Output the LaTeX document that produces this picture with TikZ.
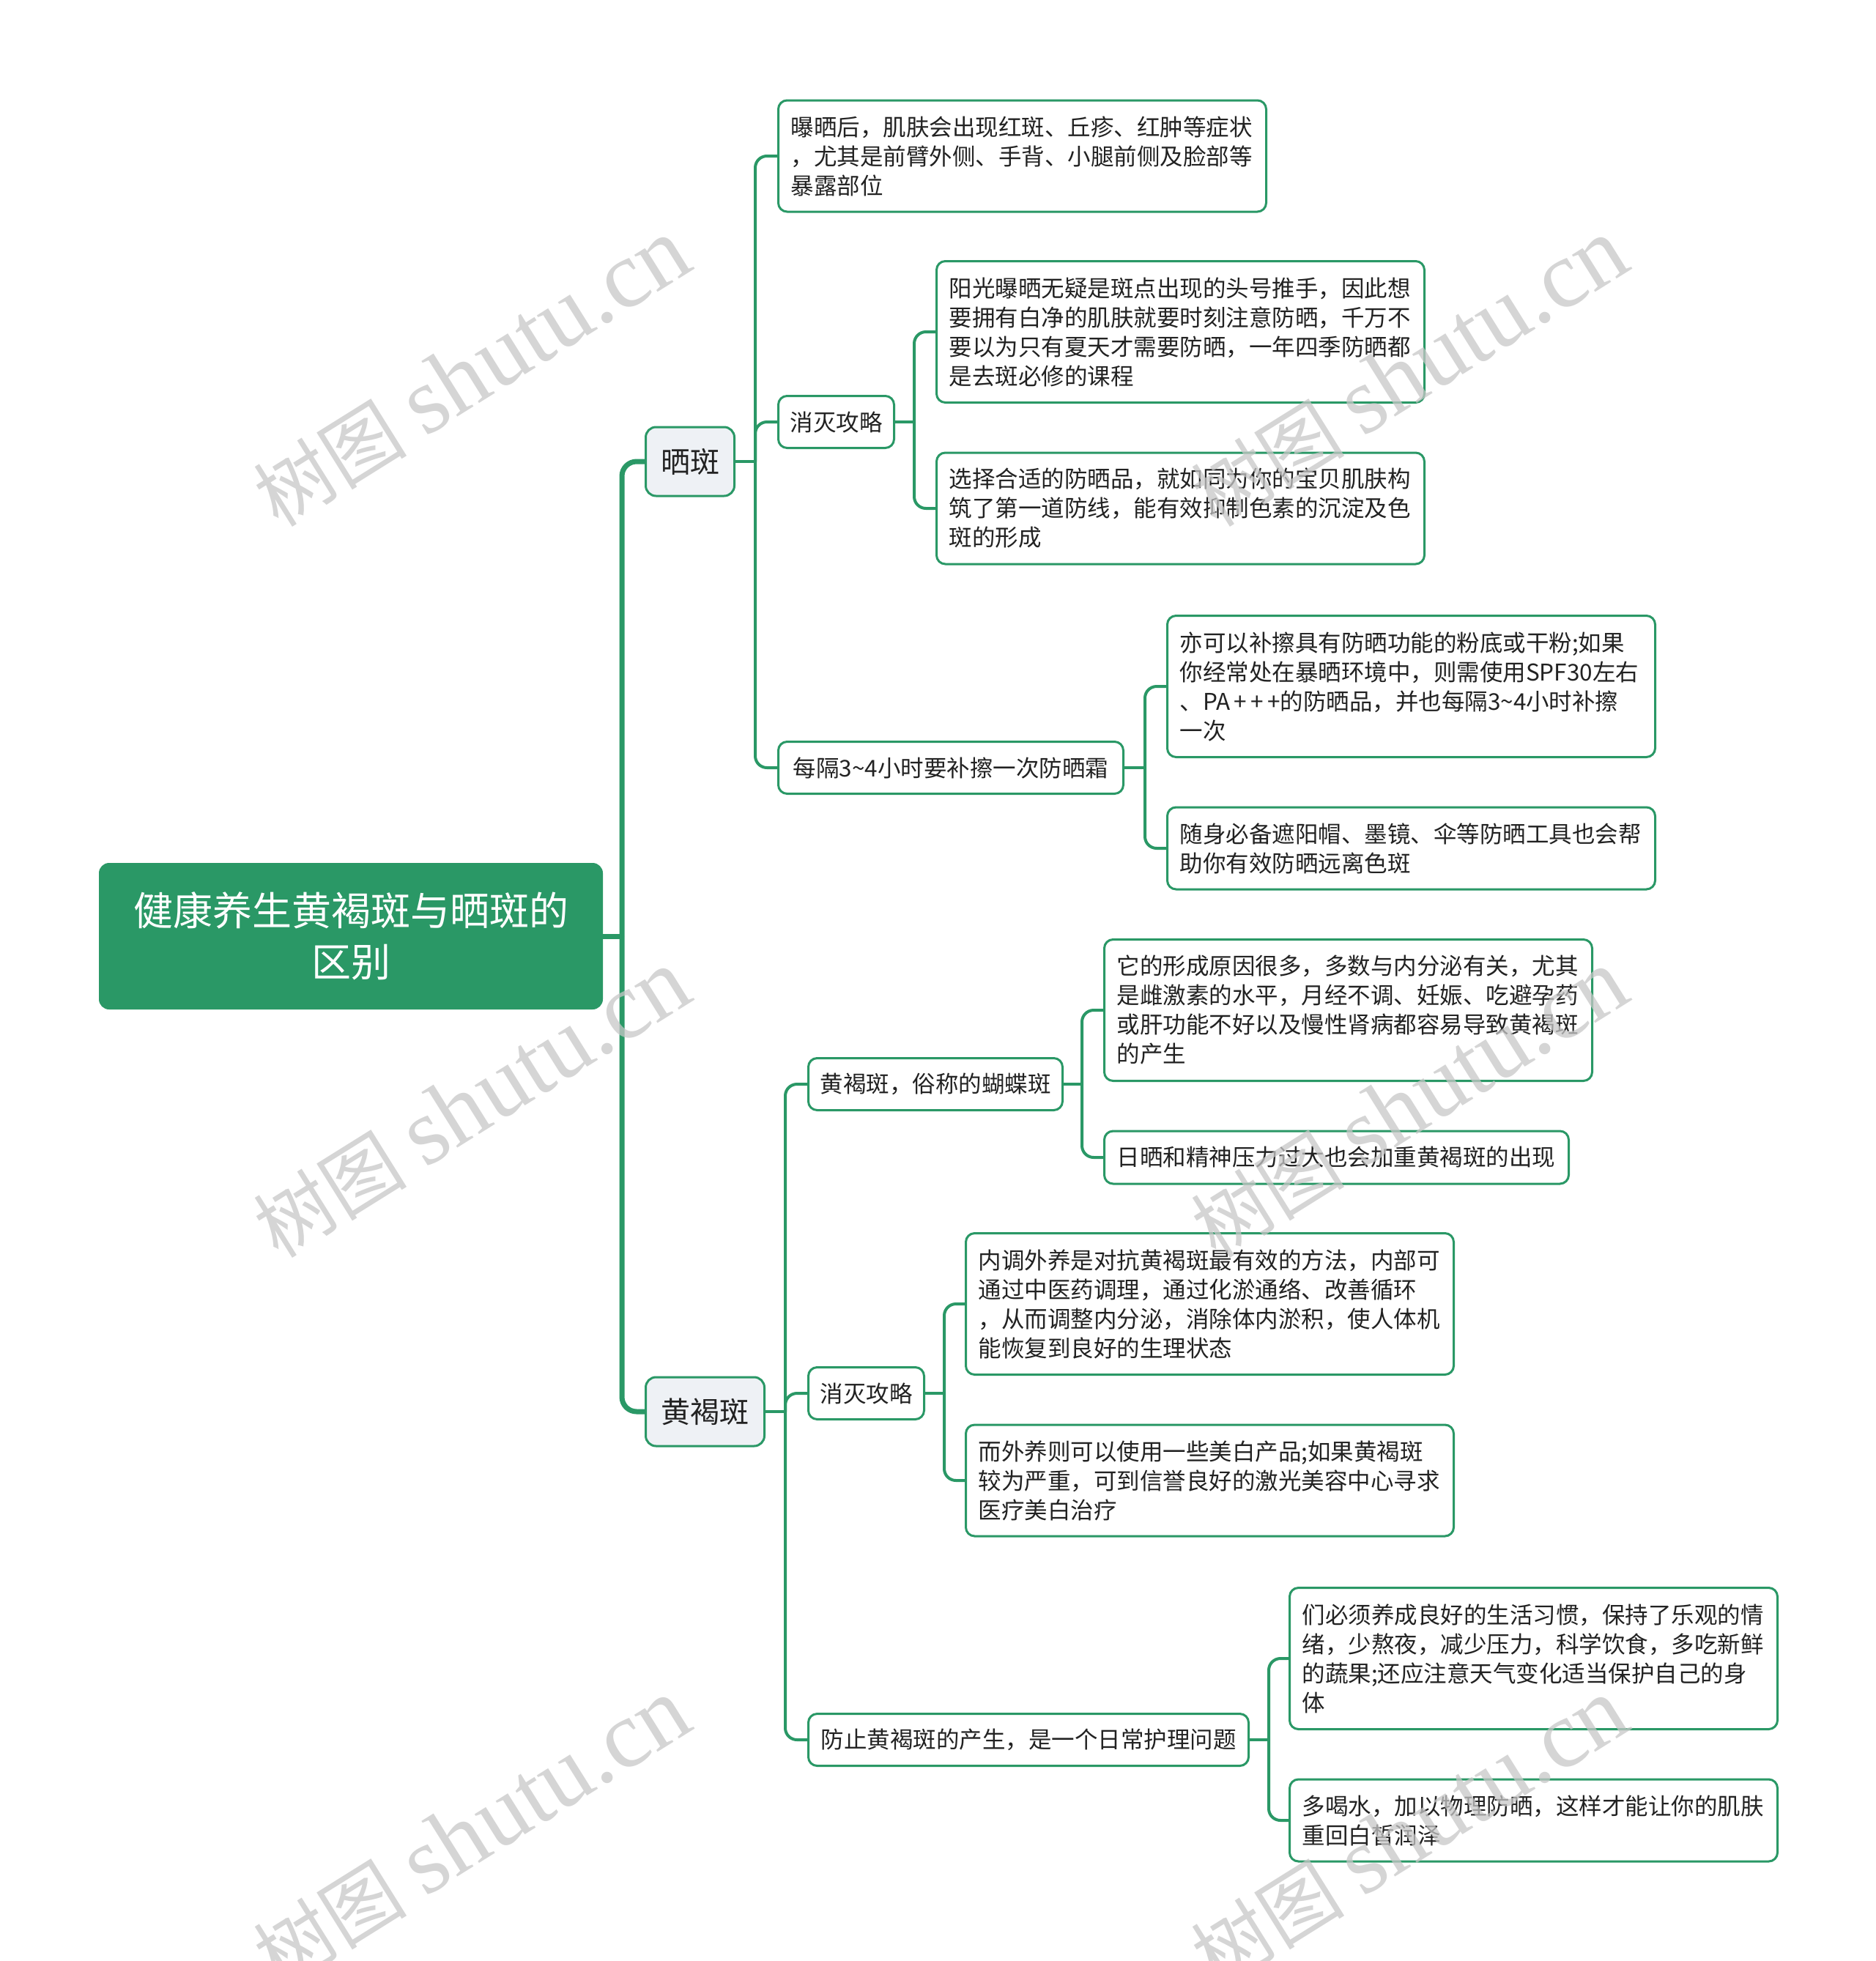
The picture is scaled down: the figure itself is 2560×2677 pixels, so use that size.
\documentclass[tikz,border=0pt]{standalone}
\usepackage{fontspec}
\setmainfont{Noto Sans CJK SC}
\newfontfamily\wmlatin{Liberation Serif}
\newcommand{\tld}{\char"7E\relax}
\definecolor{mmgreen}{RGB}{42,152,102}
\definecolor{topicfill}{RGB}{238,241,245}
\definecolor{inktext}{RGB}{34,34,34}
\tikzset{
 rootbox/.style={fill=mmgreen, rounded corners=14pt, text=white, minimum width=688pt, minimum height=200pt, align=center, font=\fontsize{54pt}{70pt}\selectfont, inner sep=0pt},
 topicbox/.style={fill=topicfill, draw=mmgreen, line width=3pt, rounded corners=14pt, text=inktext, minimum height=94pt, inner xsep=20pt, font=\fontsize{40pt}{48pt}\selectfont, anchor=west},
 subbox/.style={fill=white, draw=mmgreen, line width=3pt, rounded corners=12pt, text=inktext, minimum height=71pt, inner xsep=16pt, font=\fontsize{31.5pt}{40pt}\selectfont, anchor=west},
 leafbox/.style={fill=white, draw=mmgreen, line width=3pt, rounded corners=12pt, text=inktext, inner xsep=17pt, inner ysep=0pt, align=left, font=\fontsize{31.5pt}{40pt}\selectfont, anchor=west, text width=632pt},
 trunkline/.style={draw=mmgreen, line width=7pt, rounded corners=20pt},
 branchline/.style={draw=mmgreen, line width=4pt, rounded corners=16pt},
 watermark/.style={rotate=32, text=black!22, text opacity=0.75, inner sep=0pt}
}
\begin{document}
\begin{tikzpicture}[x=1pt,y=1pt]
\path[clip] (0,0) rectangle (2560,-2677);
\fill[white] (0,0) rectangle (2560,-2677);

% nodes
\node[rootbox] (root) at (479,-1278) {健康养生黄褐斑与晒斑的\\区别};
\node[topicbox, minimum width=121pt] (sb) at (880,-630) {晒斑};
\node[topicbox, minimum width=162pt] (hhb) at (880,-1927) {黄褐斑};

\node[leafbox, minimum height=152pt] (l1) at (1061,-213) {曝晒后，肌肤会出现红斑、丘疹、红肿等症状\\，尤其是前臂外侧、手背、小腿前侧及脸部等\\暴露部位};
\node[subbox, minimum width=158pt] (s1) at (1061,-576) {消灭攻略};
\node[subbox, minimum width=471pt] (s2) at (1061,-1048) {每隔3\tld 4小时要补擦一次防晒霜};

\node[leafbox, minimum height=193pt] (l2) at (1277,-453) {阳光曝晒无疑是斑点出现的头号推手，因此想\\要拥有白净的肌肤就要时刻注意防晒，千万不\\要以为只有夏天才需要防晒，一年四季防晒都\\是去斑必修的课程};
\node[leafbox, minimum height=152pt] (l3) at (1277,-694) {选择合适的防晒品，就如同为你的宝贝肌肤构\\筑了第一道防线，能有效抑制色素的沉淀及色\\斑的形成};

\node[leafbox, minimum height=193pt] (l4) at (1592,-937) {亦可以补擦具有防晒功能的粉底或干粉;如果\\你经常处在暴晒环境中，则需使用SPF30左右\\、PA\,+\,+\,+的防晒品，并也每隔3\tld 4小时补擦\\一次};
\node[leafbox, minimum height=112pt] (l5) at (1592,-1158) {随身必备遮阳帽、墨镜、伞等防晒工具也会帮\\助你有效防晒远离色斑};

\node[subbox, minimum width=346pt] (s3) at (1102,-1480) {黄褐斑，俗称的蝴蝶斑};
\node[subbox, minimum width=158pt] (s4) at (1102,-1902) {消灭攻略};
\node[subbox, minimum width=601pt] (s5) at (1102,-2375) {防止黄褐斑的产生，是一个日常护理问题};

\node[leafbox, minimum height=193pt] (l6) at (1506,-1379) {它的形成原因很多，多数与内分泌有关，尤其\\是雌激素的水平，月经不调、妊娠、吃避孕药\\或肝功能不好以及慢性肾病都容易导致黄褐斑\\的产生};
\node[leafbox, minimum height=72pt, text width=600pt] (l7) at (1506,-1580) {日晒和精神压力过大也会加重黄褐斑的出现};

\node[leafbox, minimum height=193pt] (l8) at (1317,-1780) {内调外养是对抗黄褐斑最有效的方法，内部可\\通过中医药调理，通过化淤通络、改善循环\\，从而调整内分泌，消除体内淤积，使人体机\\能恢复到良好的生理状态};
\node[leafbox, minimum height=152pt] (l9) at (1317,-2021) {而外养则可以使用一些美白产品;如果黄褐斑\\较为严重，可到信誉良好的激光美容中心寻求\\医疗美白治疗};

\node[leafbox, minimum height=193pt] (l10) at (1759,-2264) {们必须养成良好的生活习惯，保持了乐观的情\\绪，少熬夜，减少压力，科学饮食，多吃新鲜\\的蔬果;还应注意天气变化适当保护自己的身\\体};
\node[leafbox, minimum height=112pt] (l11) at (1759,-2485) {多喝水，加以物理防晒，这样才能让你的肌肤\\重回白皙润泽};

% junctions
\coordinate (j0) at (849,-1278);
\coordinate (j1) at (1031,-630);
\coordinate (j2) at (1248,-576);
\coordinate (j3) at (1563,-1048);
\coordinate (j4) at (1072,-1927);
\coordinate (j5) at (1477,-1480);
\coordinate (j6) at (1289,-1902);
\coordinate (j7) at (1732,-2375);

% connectors
\draw[trunkline] (root.east) -- (j0);
\draw[trunkline] (j0) |- (sb.west);
\draw[trunkline] (j0) |- (hhb.west);

\draw[branchline] (sb.east) -- (j1);
\draw[branchline] (j1) |- (l1.west);
\draw[branchline] (j1) |- (s1.west);
\draw[branchline] (j1) |- (s2.west);

\draw[branchline] (s1.east) -- (j2);
\draw[branchline] (j2) |- (l2.west);
\draw[branchline] (j2) |- (l3.west);

\draw[branchline] (s2.east) -- (j3);
\draw[branchline] (j3) |- (l4.west);
\draw[branchline] (j3) |- (l5.west);

\draw[branchline] (hhb.east) -- (j4);
\draw[branchline] (j4) |- (s3.west);
\draw[branchline] (j4) |- (s4.west);
\draw[branchline] (j4) |- (s5.west);

\draw[branchline] (s3.east) -- (j5);
\draw[branchline] (j5) |- (l6.west);
\draw[branchline] (j5) |- (l7.west);

\draw[branchline] (s4.east) -- (j6);
\draw[branchline] (j6) |- (l8.west);
\draw[branchline] (j6) |- (l9.west);

\draw[branchline] (s5.east) -- (j7);
\draw[branchline] (j7) |- (l10.west);
\draw[branchline] (j7) |- (l11.west);

% watermarks
\foreach \wx/\wy [count=\wi] in {644/-509, 644/-1507, 644/-2502, 1924/-509, 1924/-1507, 1924/-2502}{
  \node[watermark] (wm\wi) at (\wx,\wy) {\fontsize{105pt}{105pt}\selectfont 树图\hspace{25pt}{\wmlatin\fontsize{130pt}{130pt}\selectfont shutu.cn}};
}
\end{tikzpicture}
\end{document}
